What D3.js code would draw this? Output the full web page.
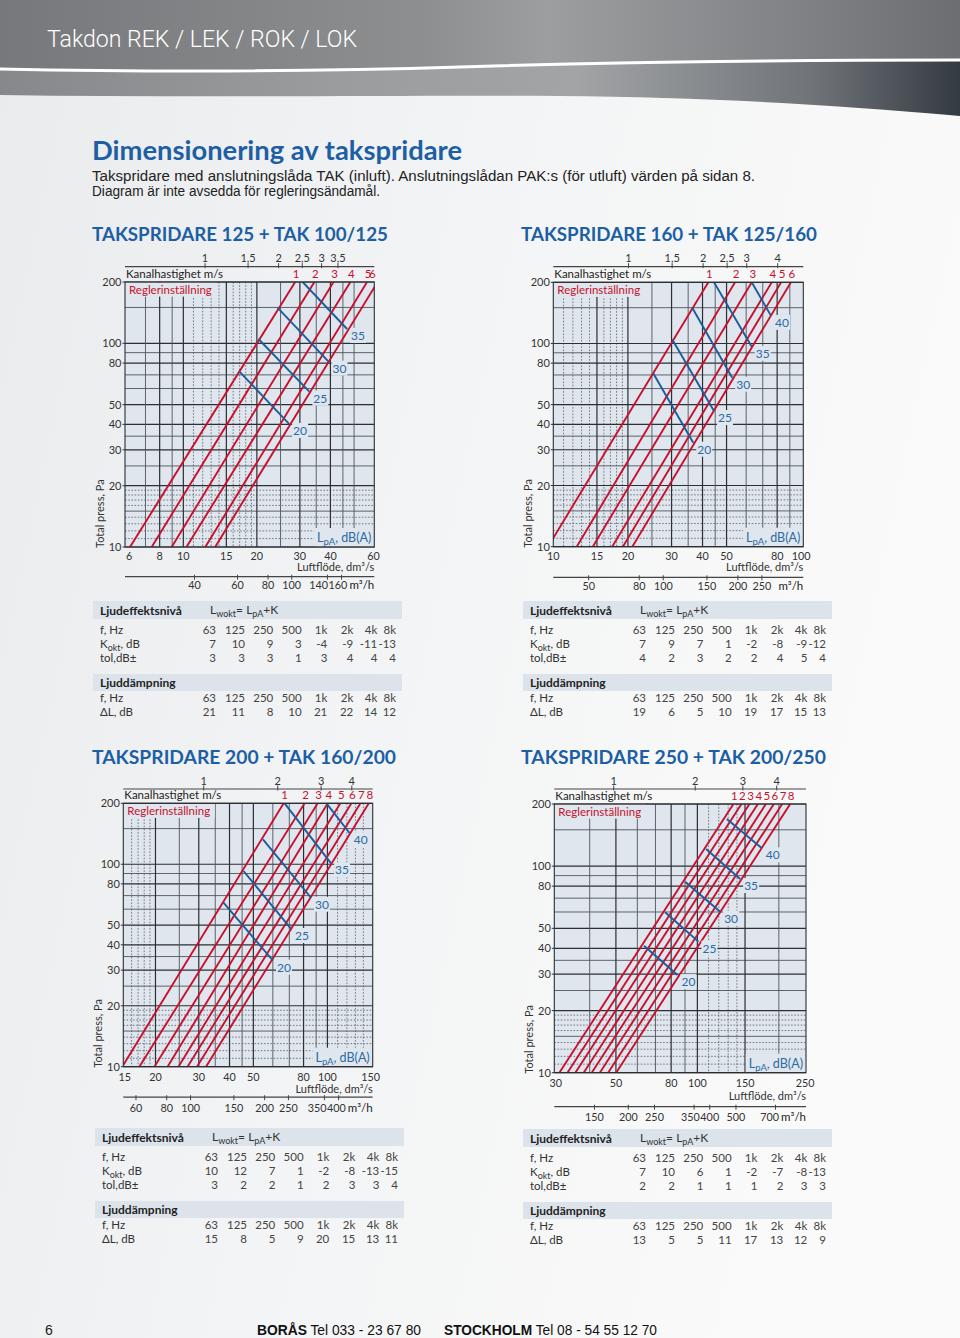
<!DOCTYPE html>
<html><head><meta charset="utf-8">
<script src="https://cdn.jsdelivr.net/npm/d3@7"></script>
<style>html,body{margin:0;padding:0;background:#fff}svg{display:block}</style>
</head><body><svg id="c" width="960" height="1338"></svg>
<script>
// ---------- shared data ----------
const yTicks = [10, 20, 30, 40, 50, 80, 100, 200];
const yGridSolid = [10, 15, 20, 25, 30, 35, 40, 50, 60, 70, 80, 90, 100, 150, 200];
const yGridDotted = [11, 12, 13, 14, 16, 17, 18, 19];
const freqs = ["63", "125", "250", "500", "1k", "2k", "4k", "8k"];

// ---------- chart 1 ----------
const c1_title = "TAKSPRIDARE 125 + TAK 100/125";
const c1_duct = 125;
const c1_domain = [5.77, 60.5];
const c1_xTicks = [6, 8, 10, 15, 20, 30, 40, 60];
const c1_velTicks = [1, 1.5, 2, 2.5, 3, 3.5];
const c1_m3hTicks = [40, 60, 80, 100, 140, 160];
const c1_gridSolid = [7, 8, 9, 10, 15, 20, 25, 30, 35, 40, 45, 50];
const c1_gridDotted = [11, 12, 13, 14, 16, 17, 18, 19];
const c1_q10 = [6.05, 7.42, 8.96, 10.3, 12.3, 13.5];
const c1_q200 = [28.7, 34.4, 41.2, 48.3, 56.5, 62.4];
const c1_lpa = [20, 25, 30, 35];
const c1_lpaFrom = [[16.9, 73.1], [20.3, 105], [24.3, 149.6], [30.8, 200]];
const c1_lpaTo = [[27.1, 40.2], [32.8, 57.9], [39.3, 81.3], [46.8, 117.6]];
const c1_K = [7, 10, 9, 3, -4, -9, -11, -13];
const c1_tol = [3, 3, 3, 1, 3, 4, 4, 4];
const c1_dL = [21, 11, 8, 10, 21, 22, 14, 12];

// ---------- chart 2 ----------
const c2_title = "TAKSPRIDARE 160 + TAK 125/160";
const c2_duct = 160;
const c2_domain = [10, 102];
const c2_xTicks = [10, 15, 20, 30, 40, 50, 80, 100];
const c2_velTicks = [1, 1.5, 2, 2.5, 3, 4];
const c2_m3hTicks = [50, 80, 100, 150, 200, 250];
const c2_gridSolid = [15, 20, 25, 30, 35, 40, 45, 50, 60, 70, 80, 90];
const c2_gridDotted = [11, 12, 13, 14, 16, 17, 18, 19];
const c2_q10 = [9.52, 12.43, 14.43, 17.28, 19.08, 20.84];
const c2_q200 = [42.2, 54.1, 63.2, 76.1, 83, 90.9];
const c2_lpa = [20, 25, 30, 35, 40];
const c2_lpaFrom = [[25.3, 71.3], [30.2, 104.6], [36.3, 150.3], [44.5, 200], [63.2, 200]];
const c2_lpaTo = [[36.7, 32.5], [44.5, 46.5], [52.7, 67.8], [63.2, 96.3], [75.6, 136.7]];
const c2_K = [7, 9, 7, 1, -2, -8, -9, -12];
const c2_tol = [4, 2, 3, 2, 2, 4, 5, 4];
const c2_dL = [19, 6, 5, 10, 19, 17, 15, 13];

// ---------- chart 3 ----------
const c3_title = "TAKSPRIDARE 200 + TAK 160/200";
const c3_duct = 200;
const c3_domain = [14.8, 152.8];
const c3_xTicks = [15, 20, 30, 40, 50, 80, 100, 150];
const c3_velTicks = [1, 2, 3, 4];
const c3_m3hTicks = [60, 80, 100, 150, 200, 250, 350, 400];
const c3_gridSolid = [20, 25, 30, 35, 40, 45, 50, 60, 70, 80, 90, 100];
const c3_gridDotted = [16, 17, 18, 19, 110, 120, 130, 140];
const c3_q10 = [14.66, 17.2, 19.8, 22.4, 24.8, 27.0, 29.5, 32.1];
const c3_q200 = [66.4, 80.8, 91.3, 100.3, 112.9, 125.2, 136.2, 147.3];
const c3_lpa = [20, 25, 30, 35, 40];
const c3_lpaFrom = [[37.8, 64.6], [45.6, 92.6], [54.7, 132.8], [67.0, 200], [99.1, 200]];
const c3_lpaTo = [[60.1, 33.4], [71.2, 47.9], [85.8, 68.3], [103.5, 101], [123.3, 142.2]];
const c3_K = [10, 12, 7, 1, -2, -8, -13, -15];
const c3_tol = [3, 2, 2, 1, 2, 3, 3, 4];
const c3_dL = [15, 8, 5, 9, 20, 15, 13, 11];

// ---------- chart 4 ----------
const c4_title = "TAKSPRIDARE 250 + TAK 200/250";
const c4_duct = 250;
const c4_domain = [29.6, 252];
const c4_xTicks = [30, 50, 80, 100, 150, 250];
const c4_velTicks = [1, 2, 3, 4];
const c4_m3hTicks = [150, 200, 250, 350, 400, 500, 700];
const c4_gridSolid = [40, 50, 60, 70, 80, 90, 100, 150, 200];
const c4_gridDotted = [110, 120, 130, 140];
const c4_q10 = [30.9, 33.1, 35.4, 38.0, 40.7, 43.6, 46.8, 50.1];
const c4_q200 = [135.9, 145.5, 155.8, 167.3, 179.1, 191.7, 205.8, 220.3];
const c4_lpa = [20, 25, 30, 35, 40];
const c4_lpaFrom = [[63.5, 41.2], [76.0, 59.8], [90.1, 84.1], [107.7, 121.1], [128.5, 169.2]];
const c4_lpaTo = [[84.4, 29.7], [100.9, 43.1], [121.4, 60.2], [143.9, 86.7], [173.1, 122.0]];
const c4_K = [7, 10, 6, 1, -2, -7, -8, -13];
const c4_tol = [2, 2, 1, 1, 1, 2, 3, 3];
const c4_dL = [13, 5, 5, 11, 17, 13, 12, 9];

// ---------- build chart table ----------
const charts = [
  {title:c1_title,duct:c1_duct,domain:c1_domain,xTicks:c1_xTicks,vel:c1_velTicks,m3h:c1_m3hTicks,gridSolid:c1_gridSolid,gridDotted:c1_gridDotted,q10:c1_q10,q200:c1_q200,lpa:c1_lpa,from:c1_lpaFrom,to:c1_lpaTo,K:c1_K,tol:c1_tol,dL:c1_dL},
  {title:c2_title,duct:c2_duct,domain:c2_domain,xTicks:c2_xTicks,vel:c2_velTicks,m3h:c2_m3hTicks,gridSolid:c2_gridSolid,gridDotted:c2_gridDotted,q10:c2_q10,q200:c2_q200,lpa:c2_lpa,from:c2_lpaFrom,to:c2_lpaTo,K:c2_K,tol:c2_tol,dL:c2_dL},
  {title:c3_title,duct:c3_duct,domain:c3_domain,xTicks:c3_xTicks,vel:c3_velTicks,m3h:c3_m3hTicks,gridSolid:c3_gridSolid,gridDotted:c3_gridDotted,q10:c3_q10,q200:c3_q200,lpa:c3_lpa,from:c3_lpaFrom,to:c3_lpaTo,K:c3_K,tol:c3_tol,dL:c3_dL},
  {title:c4_title,duct:c4_duct,domain:c4_domain,xTicks:c4_xTicks,vel:c4_velTicks,m3h:c4_m3hTicks,gridSolid:c4_gridSolid,gridDotted:c4_gridDotted,q10:c4_q10,q200:c4_q200,lpa:c4_lpa,from:c4_lpaFrom,to:c4_lpaTo,K:c4_K,tol:c4_tol,dL:c4_dL}
];

// ---------- layout (positions only) ----------
const layouts = [
  {left:125, right:374.3, top:282, bottom:547, topAx:15.3, tickDy:12.8, lfDy:24, m3Dy:29.7, m3Lab:12, titleX:92, titleY:241, titleW:296, tableX:93, tableY:601},
  {left:553.3, right:803.3, top:282.3, bottom:546.7, topAx:15.6, tickDy:12.8, lfDy:24, m3Dy:30.6, m3Lab:12.5, titleX:521, titleY:241, titleW:296, tableX:523, tableY:601},
  {left:123.3, right:372.7, top:803.3, bottom:1066.7, topAx:14.3, tickDy:14.5, lfDy:25.8, m3Dy:30.5, m3Lab:15, titleX:92, titleY:764, titleW:304, tableX:95, tableY:1128},
  {left:554.3, right:806, top:804, bottom:1072.7, topAx:15, tickDy:14.2, lfDy:27.2, m3Dy:34, m3Lab:14, titleX:521, titleY:764, titleW:305, tableX:523, tableY:1129}
];

const FONT = "Lato, 'Open Sans', sans-serif";
const NARROW = "'Liberation Sans Narrow', 'Liberation Sans', Arial, sans-serif";
const RED = '#c8102e', BLUE = '#1d5c98', BLUE_TXT = '#2b6aa4', PLOT_BG = '#dfe6ed', BAR_BG = '#dce3ea', TITLE_BLUE = '#1d5fa4';
const TXT = '#333';

const svg = d3.select('#c');
const defs = svg.append('defs');

function grad(id, stops, x2 = 1, y2 = 0) {
  const g = defs.append('linearGradient').attr('id', id).attr('x1', 0).attr('y1', 0).attr('x2', x2).attr('y2', y2);
  stops.forEach(s => g.append('stop').attr('offset', s[0]).attr('stop-color', s[1]));
}
grad('pagebg', [[0, '#e9ebed'], [0.5, '#f3f4f5'], [1, '#fafafa']], 1, 0.3);
grad('hdr', [[0, '#76787b'], [0.45, '#8d8f91'], [0.57, '#9d9ea0'], [0.8, '#838588'], [1, '#6c6e71']]);
grad('band', [[0, '#86888b'], [0.35, '#9a9c9e'], [0.6, '#a2a4a6'], [0.85, '#6f7378'], [1, '#343a41']]);

// page background
svg.append('rect').attr('width', 960).attr('height', 1338).attr('fill', 'url(#pagebg)');
// header
svg.append('rect').attr('width', 960).attr('height', 76).attr('fill', 'url(#hdr)');
svg.append('path').attr('d', 'M0,69 C150,72 300,72 460,67 C620,62 800,60 960,60 L960,116 C820,104 700,97 560,96 C400,95 200,98 0,95 Z').attr('fill', 'url(#band)');
svg.append('path').attr('d', 'M0,69 C150,72 300,72 460,67 C620,62 800,60 960,60').attr('fill', 'none').attr('stroke', '#fff').attr('stroke-width', 3);
svg.append('text').attr('x', 47).attr('y', 47).attr('font-family', "Roboto, 'Liberation Sans', sans-serif").attr('font-weight', 300)
  .attr('font-size', 24).attr('fill', '#fff').attr('textLength', 310).attr('lengthAdjust', 'spacingAndGlyphs').text('Takdon REK / LEK / ROK / LOK');

// titles
svg.append('text').attr('x', 92).attr('y', 160).attr('font-family', FONT).attr('font-weight', 700).attr('font-size', 27)
  .attr('fill', TITLE_BLUE).attr('textLength', 370).attr('lengthAdjust', 'spacingAndGlyphs').text('Dimensionering av takspridare');
svg.append('text').attr('x', 92).attr('y', 181).attr('font-family', NARROW).attr('font-size', 14).attr('fill', '#222')
  .attr('textLength', 663).attr('lengthAdjust', 'spacingAndGlyphs')
  .text('Takspridare med anslutningslåda TAK (inluft). Anslutningslådan PAK:s (för utluft) värden på sidan 8.');
svg.append('text').attr('x', 92).attr('y', 196).attr('font-family', NARROW).attr('font-size', 14).attr('fill', '#222')
  .attr('textLength', 288).attr('lengthAdjust', 'spacingAndGlyphs').text('Diagram är inte avsedda för regleringsändamål.');

function fmt(v) { return String(v).replace('.', ','); }

function addBg(g, textSel, pad, fill) {
  const b = textSel.node().getBBox();
  g.insert('rect', () => textSel.node()).attr('x', b.x - pad).attr('y', b.y - pad + 1).attr('width', b.width + 2 * pad).attr('height', b.height + 2 * pad - 2).attr('fill', fill);
}

// push labels left so none overlap each other or the unit label at the right
function nudge(sel, rightLimit) {
  const nodes = sel.nodes();
  const xs = nodes.map(n => +n.getAttribute('x'));
  const ws = nodes.map(n => n.getComputedTextLength());
  const n = xs.length;
  if (xs[n - 1] + ws[n - 1] / 2 > rightLimit) xs[n - 1] = rightLimit - ws[n - 1] / 2;
  for (let i = n - 2; i >= 0; i--) {
    const ov = (xs[i] + ws[i] / 2) - (xs[i + 1] - ws[i + 1] / 2) + 0.5;
    if (ov > 0) xs[i] -= ov;
  }
  nodes.forEach((nd, i) => nd.setAttribute('x', xs[i]));
}

function drawChart(c, L, idx) {
  const x = d3.scaleLog().domain(c.domain).range([L.left, L.right]);
  const y = d3.scaleLog().domain([10, 200]).range([L.bottom, L.top]);
  const g = svg.append('g');
  const W = L.right - L.left, H = L.bottom - L.top;

  // section title
  g.append('text').attr('x', L.titleX).attr('y', L.titleY).attr('font-family', FONT).attr('font-weight', 700).attr('font-size', 19)
    .attr('fill', TITLE_BLUE).attr('textLength', L.titleW).attr('lengthAdjust', 'spacingAndGlyphs').text(c.title);

  g.append('rect').attr('x', L.left).attr('y', L.top).attr('width', W).attr('height', H).attr('fill', PLOT_BG);

  // grid
  g.append('g').selectAll('line').data(yGridDotted).join('line')
    .attr('x1', L.left).attr('x2', L.right).attr('y1', d => y(d)).attr('y2', d => y(d))
    .attr('stroke', '#5a5f66').attr('stroke-width', 0.8).attr('stroke-dasharray', '1.6,1.6');
  g.append('g').selectAll('line').data(c.gridDotted).join('line')
    .attr('y1', L.top).attr('y2', L.bottom).attr('x1', d => x(d)).attr('x2', d => x(d))
    .attr('stroke', '#5a5f66').attr('stroke-width', 0.8).attr('stroke-dasharray', '1.6,1.6');
  g.append('g').selectAll('line').data(yGridSolid).join('line')
    .attr('x1', L.left).attr('x2', L.right).attr('y1', d => y(d)).attr('y2', d => y(d))
    .attr('stroke', d => yTicks.includes(d) ? '#2c2f33' : '#50555c').attr('stroke-width', d => yTicks.includes(d) ? 1.2 : 0.9);
  g.append('g').selectAll('line').data(c.gridSolid).join('line')
    .attr('y1', L.top).attr('y2', L.bottom).attr('x1', d => x(d)).attr('x2', d => x(d))
    .attr('stroke', d => c.xTicks.includes(d) ? '#2c2f33' : '#50555c').attr('stroke-width', d => c.xTicks.includes(d) ? 1.2 : 0.9);

  // Reglerinställning label with bg
  const rl = g.append('text').attr('x', L.left + 4).attr('y', L.top + 11.5).attr('font-family', FONT).attr('font-size', 11.5).attr('fill', RED).text('Reglerinställning');
  const rb = rl.node().getBBox();
  g.insert('rect', () => rl.node()).attr('x', L.left + 0.6).attr('y', L.top + 0.6).attr('width', rb.x + rb.width + 4 - L.left).attr('height', 14).attr('fill', PLOT_BG);

  // LpA label with bg
  const lp = g.append('text').attr('x', L.right - 3).attr('y', L.bottom - 5).attr('text-anchor', 'end').attr('font-family', FONT).attr('font-size', 12.5).attr('fill', BLUE_TXT);
  lp.append('tspan').text('L');
  lp.append('tspan').attr('dy', 3).attr('font-size', 9.5).text('pA');
  lp.append('tspan').attr('dy', -3).text(', dB(A)');
  const lb = lp.node().getBBox();
  g.insert('rect', () => lp.node()).attr('x', lb.x - 3).attr('y', L.bottom - 19).attr('width', L.right - lb.x + 3).attr('height', 18.4).attr('fill', PLOT_BG);

  // clip
  defs.append('clipPath').attr('id', 'clip' + idx).append('rect').attr('x', L.left).attr('y', L.top).attr('width', W).attr('height', H);
  const lg = g.append('g').attr('clip-path', `url(#clip${idx})`);

  // red regulator-setting lines
  lg.selectAll('line.red').data(c.q10.map((q, i) => [q, c.q200[i]])).join('line').attr('class', 'red')
    .attr('x1', d => x(d[0])).attr('y1', y(10)).attr('x2', d => x(d[1])).attr('y2', y(200))
    .attr('stroke', RED).attr('stroke-width', 1.9);
  // blue LpA lines
  lg.selectAll('line.blue').data(c.lpa.map((v, i) => [c.from[i], c.to[i]])).join('line').attr('class', 'blue')
    .attr('x1', d => x(d[0][0])).attr('y1', d => y(d[0][1])).attr('x2', d => x(d[1][0])).attr('y2', d => y(d[1][1]))
    .attr('stroke', BLUE).attr('stroke-width', 1.9);

  // blue labels
  c.lpa.forEach((v, i) => {
    const t = g.append('text').attr('x', x(c.to[i][0]) + 4).attr('y', y(c.to[i][1]) + 11).attr('font-family', FONT).attr('font-size', 12).attr('fill', BLUE_TXT).text(v);
    addBg(g, t, 1, PLOT_BG);
  });

  // frame
  g.append('rect').attr('x', L.left).attr('y', L.top).attr('width', W).attr('height', H).attr('fill', 'none').attr('stroke', '#2c2f33').attr('stroke-width', 1.1);

  // red setting numbers
  g.append('g').selectAll('text').data(c.q200).join('text')
    .attr('x', d => Math.min(x(d), L.right - 3) + 1).attr('y', L.top - 4).attr('text-anchor', 'middle')
    .attr('font-family', FONT).attr('font-size', 11.5).attr('fill', RED).text((d, i) => i + 1);

  // Kanalhastighet
  g.append('text').attr('x', L.left + 1).attr('y', L.top - 4).attr('font-family', FONT).attr('font-size', 11.5).attr('fill', '#222').text('Kanalhastighet m/s');

  // top velocity axis
  const area = Math.PI * Math.pow(c.duct / 1000, 2) / 4;
  const ay = L.top - L.topAx;
  g.append('line').attr('x1', L.left).attr('x2', L.right).attr('y1', ay).attr('y2', ay).attr('stroke', '#444').attr('stroke-width', 1.2);
  g.append('g').selectAll('line').data(c.vel).join('line')
    .attr('x1', d => x(d * area * 1000)).attr('x2', d => x(d * area * 1000)).attr('y1', ay - 3.5).attr('y2', ay + 1.5).attr('stroke', '#444').attr('stroke-width', 1);
  g.append('g').selectAll('text').data(c.vel).join('text')
    .attr('x', d => x(d * area * 1000)).attr('y', ay - 4.5).attr('text-anchor', 'middle').attr('font-family', FONT).attr('font-size', 11).attr('fill', TXT).text(fmt);

  // y axis
  g.append('g').selectAll('text').data(yTicks).join('text')
    .attr('x', L.left - 3.5).attr('y', d => y(d) + 4).attr('text-anchor', 'end').attr('font-family', FONT).attr('font-size', 11).attr('fill', TXT).text(d => d);
  g.append('g').selectAll('line').data(yTicks).join('line')
    .attr('x1', L.left - 2.5).attr('x2', L.left).attr('y1', d => y(d)).attr('y2', d => y(d)).attr('stroke', '#333').attr('stroke-width', 1);
  g.append('text').attr('transform', `translate(${L.left - 21},${L.bottom + 1}) rotate(-90)`).attr('font-family', FONT).attr('font-size', 11)
    .attr('fill', TXT).text('Total press, Pa');

  // bottom dm3/s axis
  g.append('g').selectAll('text').data(c.xTicks).join('text')
    .attr('x', d => x(d)).attr('y', L.bottom + L.tickDy).attr('text-anchor', 'middle').attr('font-family', FONT).attr('font-size', 10.8).attr('fill', TXT).text(d => d);
  g.append('text').attr('x', L.right).attr('y', L.bottom + L.lfDy).attr('text-anchor', 'end').attr('font-family', FONT).attr('font-size', 11)
    .attr('fill', TXT).text('Luftflöde, dm³/s');

  // m3/h axis
  const my = L.bottom + L.m3Dy;
  g.append('line').attr('x1', L.left).attr('x2', L.right).attr('y1', my).attr('y2', my).attr('stroke', '#444').attr('stroke-width', 1.2);
  g.append('g').selectAll('line').data(c.m3h).join('line')
    .attr('x1', d => x(d / 3.6)).attr('x2', d => x(d / 3.6)).attr('y1', my - 2).attr('y2', my + 3).attr('stroke', '#444').attr('stroke-width', 1);
  const unit = g.append('text').attr('x', L.right).attr('y', my + L.m3Lab).attr('text-anchor', 'end').attr('font-family', FONT).attr('font-size', 11.5)
    .attr('fill', '#222').text('m³/h');
  const ub = unit.node().getBBox();
  const ml = g.append('g').selectAll('text').data(c.m3h).join('text')
    .attr('x', d => x(d / 3.6)).attr('y', my + L.m3Lab).attr('text-anchor', 'middle').attr('font-family', FONT).attr('font-size', 10.8).attr('fill', TXT).text(d => d);
  nudge(ml, ub.x - 2);

  drawTable(c, L, g);
}

function drawTable(c, L, g0) {
  const g = g0.append('g');
  const tx = L.tableX, ty = L.tableY, W = 309;
  const cols = [123, 152, 180.3, 208.6, 234.3, 260.3, 284.3, 303];
  const fs = 11.5;
  g.append('rect').attr('x', tx).attr('y', ty).attr('width', W).attr('height', 18).attr('fill', BAR_BG);
  g.append('text').attr('x', tx + 7).attr('y', ty + 13.5).attr('font-family', FONT).attr('font-weight', 700).attr('font-size', 12).attr('fill', '#222').text('Ljudeffektsnivå');
  const f = g.append('text').attr('x', tx + 117).attr('y', ty + 13).attr('font-family', FONT).attr('font-size', 12).attr('fill', TXT);
  f.append('tspan').text('L');
  f.append('tspan').attr('dy', 3).attr('font-size', 9).text('wokt');
  f.append('tspan').attr('dy', -3).text('= L');
  f.append('tspan').attr('dy', 3).attr('font-size', 9).text('pA');
  f.append('tspan').attr('dy', -3).text('+K');

  function row(labelFn, vals, yy) {
    const t = g.append('text').attr('x', tx + 7).attr('y', yy).attr('font-family', FONT).attr('font-size', fs).attr('fill', TXT);
    labelFn(t);
    g.append('g').selectAll('text').data(vals).join('text')
      .attr('x', (d, i) => tx + cols[i]).attr('y', yy).attr('text-anchor', 'end').attr('font-family', FONT).attr('font-size', fs).attr('fill', '#444').text(d => d);
  }
  row(t => t.text('f, Hz'), freqs, ty + 33);
  row(t => { t.append('tspan').text('K'); t.append('tspan').attr('dy', 3).attr('font-size', 9).text('okt'); t.append('tspan').attr('dy', -3).text(', dB'); }, c.K, ty + 47);
  row(t => t.text('tol,dB±'), c.tol, ty + 61);

  g.append('rect').attr('x', tx).attr('y', ty + 73).attr('width', W).attr('height', 17).attr('fill', BAR_BG);
  g.append('text').attr('x', tx + 7).attr('y', ty + 86).attr('font-family', FONT).attr('font-weight', 700).attr('font-size', 12).attr('fill', '#222').text('Ljuddämpning');
  row(t => t.text('f, Hz'), freqs, ty + 101);
  row(t => t.text('ΔL, dB'), c.dL, ty + 115);
}

charts.forEach((c, i) => drawChart(c, layouts[i], i));

// footer
svg.append('text').attr('x', 45).attr('y', 1335).attr('font-family', NARROW).attr('font-size', 14).attr('fill', '#222').text('6');
const f1 = svg.append('text').attr('x', 257).attr('y', 1335).attr('font-family', NARROW).attr('font-size', 14).attr('fill', '#111')
  .attr('textLength', 164).attr('lengthAdjust', 'spacingAndGlyphs');
f1.append('tspan').attr('font-weight', 700).text('BORÅS');
f1.append('tspan').text(' Tel 033 - 23 67 80');
const f2 = svg.append('text').attr('x', 444).attr('y', 1335).attr('font-family', NARROW).attr('font-size', 14).attr('fill', '#111')
  .attr('textLength', 213).attr('lengthAdjust', 'spacingAndGlyphs');
f2.append('tspan').attr('font-weight', 700).text('STOCKHOLM');
f2.append('tspan').text(' Tel 08 - 54 55 12 70');
</script>
</body></html>
